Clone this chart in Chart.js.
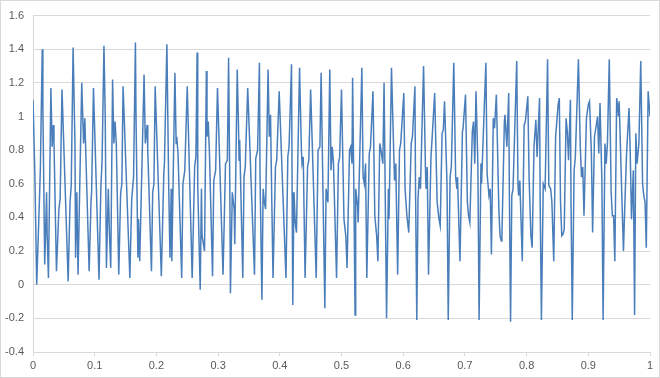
<!DOCTYPE html>
<html>
<head>
<meta charset="utf-8">
<script src="https://cdn.jsdelivr.net/npm/chart.js@4.4.1/dist/chart.umd.min.js"></script>
<style>
  html, body { margin: 0; padding: 0; background: #ffffff; }
  #wrap { width: 660px; height: 378px; }
</style>
</head>
<body>
<div id="wrap"><canvas id="chart" width="660" height="378"></canvas></div>
<script>
// x positions (0..1) of the line's vertices
const xValues = [
  0.000, 0.003, 0.006, 0.011, 0.012, 0.015, 0.016, 0.019, 0.021, 0.022, 0.023, 0.025,
  0.029, 0.031, 0.033, 0.034, 0.038, 0.042, 0.044, 0.047, 0.057, 0.060, 0.062,
  0.065, 0.068, 0.069, 0.071, 0.073, 0.079, 0.082, 0.084, 0.091, 0.094, 0.095, 0.098,
  0.107, 0.110, 0.112,
  0.115, 0.117, 0.119, 0.122, 0.124, 0.126, 0.129, 0.131, 0.133, 0.135, 0.139, 0.142,
  0.144, 0.146, 0.157, 0.160, 0.163,
  0.166, 0.167, 0.170, 0.171, 0.173, 0.180, 0.182, 0.185, 0.186, 0.192, 0.194, 0.196,
  0.198, 0.208, 0.212, 0.213,
  0.217, 0.220, 0.222, 0.224, 0.225, 0.230, 0.232, 0.233, 0.235, 0.241, 0.243, 0.246,
  0.250, 0.258, 0.262, 0.264,
  0.266, 0.267, 0.271, 0.273, 0.274, 0.278, 0.281, 0.282, 0.284, 0.286, 0.291, 0.293,
  0.296, 0.299, 0.308, 0.312, 0.315,
  0.317, 0.319, 0.320, 0.323, 0.326, 0.327, 0.331, 0.333, 0.334, 0.335, 0.340, 0.342,
  0.344, 0.348, 0.359, 0.361, 0.364,
  0.367, 0.368, 0.371, 0.373, 0.375, 0.377, 0.381, 0.383, 0.385, 0.386, 0.389, 0.393,
  0.395, 0.399, 0.410, 0.413, 0.415,
  0.419, 0.420, 0.421, 0.423, 0.425, 0.427, 0.432, 0.435, 0.436, 0.438, 0.441, 0.445,
  0.447, 0.450, 0.459, 0.462, 0.465,
  0.467, 0.470, 0.473, 0.475, 0.478, 0.481, 0.483, 0.485, 0.487, 0.492, 0.495, 0.497,
  0.500, 0.504, 0.507, 0.509, 0.513, 0.515, 0.517,
  0.518, 0.520, 0.522, 0.523, 0.526, 0.527, 0.533, 0.535, 0.537, 0.539, 0.541, 0.545,
  0.547, 0.551, 0.554, 0.557, 0.559, 0.562, 0.564, 0.567,
  0.569, 0.571, 0.573, 0.576, 0.577, 0.581, 0.585, 0.586, 0.588, 0.591, 0.594, 0.596,
  0.601, 0.603, 0.606, 0.609, 0.613, 0.615,
  0.619, 0.620, 0.622, 0.624, 0.626, 0.628, 0.633, 0.636, 0.637, 0.639, 0.641, 0.645,
  0.647, 0.651, 0.655, 0.658, 0.660, 0.663, 0.665,
  0.667, 0.671, 0.673, 0.676, 0.678, 0.682, 0.685, 0.687, 0.688, 0.692, 0.696, 0.697,
  0.701, 0.704, 0.706, 0.708, 0.712, 0.714, 0.716,
  0.718, 0.721, 0.723, 0.726, 0.727, 0.734, 0.736, 0.739, 0.741, 0.743, 0.746, 0.748,
  0.751, 0.755, 0.757, 0.759, 0.760, 0.764, 0.765, 0.768,
  0.771, 0.772, 0.774, 0.776, 0.778, 0.784, 0.786, 0.787, 0.789, 0.793, 0.796, 0.798,
  0.802, 0.804, 0.807, 0.809, 0.812, 0.815, 0.817,
  0.821, 0.822, 0.824, 0.827, 0.830, 0.834, 0.836, 0.839, 0.841, 0.844, 0.847, 0.849,
  0.851, 0.853, 0.855, 0.857, 0.859, 0.861, 0.864, 0.866, 0.868,
  0.871, 0.872, 0.874, 0.877, 0.879, 0.884, 0.887, 0.889, 0.891, 0.893, 0.897, 0.900,
  0.902, 0.905, 0.907, 0.910, 0.915, 0.917,
  0.919, 0.922, 0.924, 0.927, 0.929, 0.931, 0.934, 0.937, 0.939, 0.941, 0.943, 0.946,
  0.949, 0.950, 0.954, 0.957, 0.959, 0.962,
  0.966, 0.968, 0.970, 0.973, 0.975, 0.977, 0.979, 0.982, 0.985, 0.988, 0.990, 0.992,
  0.994, 0.997, 1.000
];

// signal values at those vertices
const yValues = [
  1.10, 0.66, 0.00, 0.57, 0.70, 1.40, 1.05, 0.12, 0.40, 0.55, 0.29, 0.04,
  1.17, 0.82, 0.95, 0.85, 0.08, 0.45, 0.51, 1.16, 0.02, 0.49, 0.59,
  1.41, 0.84, 0.16, 0.55, 0.06, 1.20, 0.84, 0.99, 0.08, 0.49, 0.55, 1.17,
  0.03, 0.58, 0.74,
  1.42, 1.01, 0.10, 0.57, 0.29, 0.10, 1.22, 0.84, 0.97, 0.84, 0.06, 0.54,
  0.60, 1.18, 0.04, 0.51, 0.64,
  1.44, 0.99, 0.16, 0.39, 0.14, 1.25, 0.84, 0.95, 0.80, 0.08, 0.55, 0.60,
  1.18, 0.05, 0.66, 0.72,
  1.43, 0.57, 0.16, 0.57, 0.14, 1.26, 0.84, 0.88, 0.78, 0.04, 0.60, 0.68,
  1.18, 0.04, 0.70, 0.76,
  1.38, 0.59, -0.03, 0.57, 0.29, 0.20, 1.27, 0.88, 0.97, 0.78, 0.05, 0.62,
  0.68, 1.17, 0.06, 0.72, 0.74,
  1.35, 0.57, -0.05, 0.55, 0.45, 0.24, 1.28, 0.95, 0.74, 0.86, 0.04, 0.64,
  0.70, 1.17, 0.06, 0.75, 0.80,
  1.32, 0.64, -0.09, 0.57, 0.49, 0.45, 1.28, 0.88, 1.01, 0.74, 0.04, 0.70,
  0.74, 1.15, 0.04, 0.76, 0.82,
  1.31, 0.55, -0.12, 0.55, 0.37, 0.31, 1.29, 0.80, 0.72, 0.76, 0.04, 0.70,
  0.74, 1.16, 0.04, 0.80, 0.82,
  1.26, 0.55, -0.14, 0.57, 0.49, 1.28, 0.68, 0.82, 0.72, 0.04, 0.72, 0.76,
  1.16, 0.39, 0.29, 0.10, 0.80, 0.82, 0.72,
  1.23, 0.57, -0.18, 0.57, 0.47, 0.37, 1.29, 0.64, 0.60, 0.72, 0.04, 0.78,
  0.82, 1.15, 0.41, 0.29, 0.14, 0.84, 0.80, 0.72,
  1.20, 0.49, -0.20, 0.57, 0.39, 1.29, 0.74, 0.62, 0.72, 0.06, 0.80, 0.84,
  1.14, 0.57, 0.41, 0.31, 0.84, 0.88,
  1.18, 0.57, -0.21, 0.51, 0.64, 0.57, 1.30, 0.70, 0.57, 0.70, 0.06, 0.76,
  0.88, 1.14, 0.49, 0.39, 0.35, 0.90, 0.92,
  1.09, 0.60, -0.21, 0.64, 0.70, 1.32, 0.64, 0.57, 0.64, 0.14, 0.91, 0.93,
  1.13, 0.49, 0.41, 0.37, 0.91, 0.97, 0.72,
  1.15, 0.72, -0.21, 0.72, 0.60, 1.32, 0.66, 0.53, 0.57, 0.18, 0.99, 0.93,
  1.13, 0.45, 0.29, 0.26, 0.29, 0.97, 1.01, 0.82,
  1.14, 0.57, -0.22, 0.53, 0.57, 1.33, 0.60, 0.53, 0.62, 0.14, 0.95, 0.97,
  1.12, 0.64, 0.29, 0.22, 0.82, 0.98, 0.76,
  1.11, 0.49, -0.21, 0.60, 0.57, 1.34, 0.59, 0.57, 0.49, 0.14, 0.88, 0.97,
  1.07, 1.11, 0.49, 0.29, 0.30, 0.33, 0.99, 0.91, 0.74,
  1.10, 0.49, -0.21, 0.68, 0.76, 1.34, 0.82, 0.64, 0.70, 0.41, 0.99, 1.07,
  1.09, 0.78, 0.31, 0.88, 1.00, 0.78,
  1.08, 0.62, -0.21, 0.84, 0.72, 0.84, 1.34, 0.55, 0.41, 0.41, 0.14, 1.11,
  1.00, 1.09, 0.57, 0.20, 0.45, 0.78,
  1.05, 0.78, 0.39, 0.68, -0.18, 0.90, 0.72, 0.84, 1.33, 0.60, 0.53, 0.49,
  0.22, 1.15, 1.00
];

const xTicks = [0, 0.1, 0.2, 0.3, 0.4, 0.5, 0.6, 0.7, 0.8, 0.9, 1];
const yTicks = [-0.4, -0.2, 0, 0.2, 0.4, 0.6, 0.8, 1, 1.2, 1.4, 1.6];

const points = xValues.map((x, i) => ({ x, y: yValues[i] }));

function fmt(v) {
  return String(Number(v.toFixed(1)));
}

const chartBorder = {
  id: "chartBorder",
  afterDraw(chart) {
    const ctx = chart.ctx;
    ctx.save();
    ctx.strokeStyle = "#d9d9d9";
    ctx.lineWidth = 1;
    ctx.strokeRect(0.5, 0.5, chart.width - 1, chart.height - 1);
    ctx.restore();
  },
};

new Chart(document.getElementById("chart"), {
  type: "line",
  data: {
    datasets: [
      {
        data: points,
        borderColor: "#4a7ebb",
        borderWidth: 1.5,
        pointRadius: 0,
        tension: 0,
        fill: false,
      },
    ],
  },
  plugins: [chartBorder],
  options: {
    responsive: false,
    animation: false,
    devicePixelRatio: 1,
    layout: { padding: { top: 8, right: 10, left: 0, bottom: 0 } },
    plugins: {
      legend: { display: false },
      tooltip: { enabled: false },
    },
    scales: {
      x: {
        type: "linear",
        min: 0,
        max: 1,
        afterBuildTicks(scale) {
          scale.ticks = xTicks.map((value) => ({ value }));
        },
        afterFit(scale) {
          scale.height = 26;
        },
        grid: {
          drawOnChartArea: false,
          drawTicks: true,
          tickLength: 4,
          color: "#d9d9d9",
        },
        border: { color: "#d9d9d9" },
        ticks: {
          padding: 3,
          color: "#595959",
          font: { family: "Liberation Sans", size: 11 },
          maxRotation: 0,
          callback: (v) => fmt(v),
        },
      },
      y: {
        type: "linear",
        min: -0.4,
        max: 1.6,
        afterBuildTicks(scale) {
          scale.ticks = yTicks.map((value) => ({ value }));
        },
        afterFit(scale) {
          scale.width = 33;
        },
        grid: {
          color: "#d9d9d9",
          drawTicks: false,
        },
        border: { color: "#d9d9d9" },
        ticks: {
          padding: 9,
          color: "#595959",
          font: { family: "Liberation Sans", size: 11 },
          callback: (v) => fmt(v),
        },
      },
    },
  },
});
</script>
</body>
</html>
